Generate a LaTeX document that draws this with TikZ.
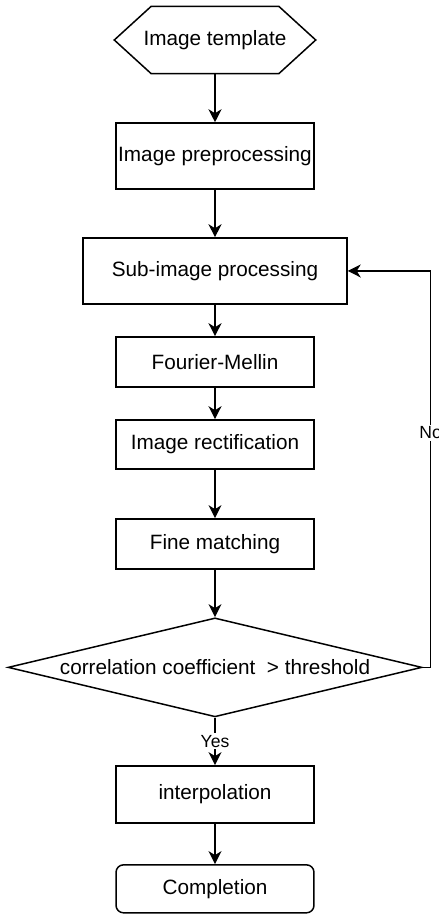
\documentclass[tikz,border=0pt]{standalone}
\usepackage{fontspec}
\setmainfont{Liberation Sans}
\usetikzlibrary{positioning,shapes.geometric,arrows.meta}

\tikzset{
  box/.style={draw, rectangle, line width=0.85pt, minimum width=3.96cm, inner sep=0pt,
    font=\fontsize{11.8}{13}\selectfont},
  hexbox/.style={box, draw=none, minimum width=4cm, minimum height=1.32cm},
  decision/.style={box, diamond, aspect=4.18, minimum width=8.28cm, minimum height=1.98cm},
  endbox/.style={box, rounded corners=0.15cm, minimum height=0.96cm},
  lbl/.style={fill=white, inner sep=1pt, font=\fontsize{10}{12}\selectfont},
}

\begin{document}
\begin{tikzpicture}[x=0.02cm, y=0.02cm, node distance=2cm, on grid,
    >={Stealth[length=2.6mm, width=2.6mm, inset=0.8mm]}]
   \useasboundingbox (0,0) rectangle (439,-916);
   \node[hexbox] (tmpl) at (215,-40) {Image template};
   \draw[line width=0.85pt] (tmpl.west) -- ([xshift=0.74cm]tmpl.north west)
     -- ([xshift=-0.74cm]tmpl.north east) -- (tmpl.east)
     -- ([xshift=-0.74cm]tmpl.south east) -- ([xshift=0.74cm]tmpl.south west) -- cycle;
   \node[box, minimum height=1.32cm] (prep) [below=2.32cm of tmpl] {Image preprocessing};
   \node[box, minimum width=5.28cm, minimum height=1.32cm] (sub) [below=2.3cm of prep] {Sub-image processing};
   \node[box, minimum height=1cm] (fm) [below=1.82cm of sub] {Fourier-Mellin};
   \node[box, minimum height=0.98cm] (rect) [below=1.65cm of fm] {Image rectification};
   \node[box, minimum height=1cm] (fine) [below=1.99cm of rect] {Fine matching};
   \node[decision] (dec) [below=2.47cm of fine] {correlation coefficient \ > threshold};
   \node[box, minimum height=1.14cm] (interp) [below=2.54cm of dec] {interpolation};
   \node[endbox] (done) [below=1.89cm of interp] {Completion};
    \path[->, line width=0.85pt]
    (tmpl) edge (prep)
    (prep) edge (sub)
    (sub) edge (fm)
    (fm) edge (rect)
    (rect) edge (fine)
    (fine) edge (dec)
    (dec) edge node[lbl, midway] {Yes} (interp)
    (interp) edge (done);
%   loop back when the match fails
    \draw[->, line width=0.85pt] (dec.east) -- ++(8,0) |- node[lbl, pos=0.296] {No} (sub.east);
\end{tikzpicture}
\end{document}
